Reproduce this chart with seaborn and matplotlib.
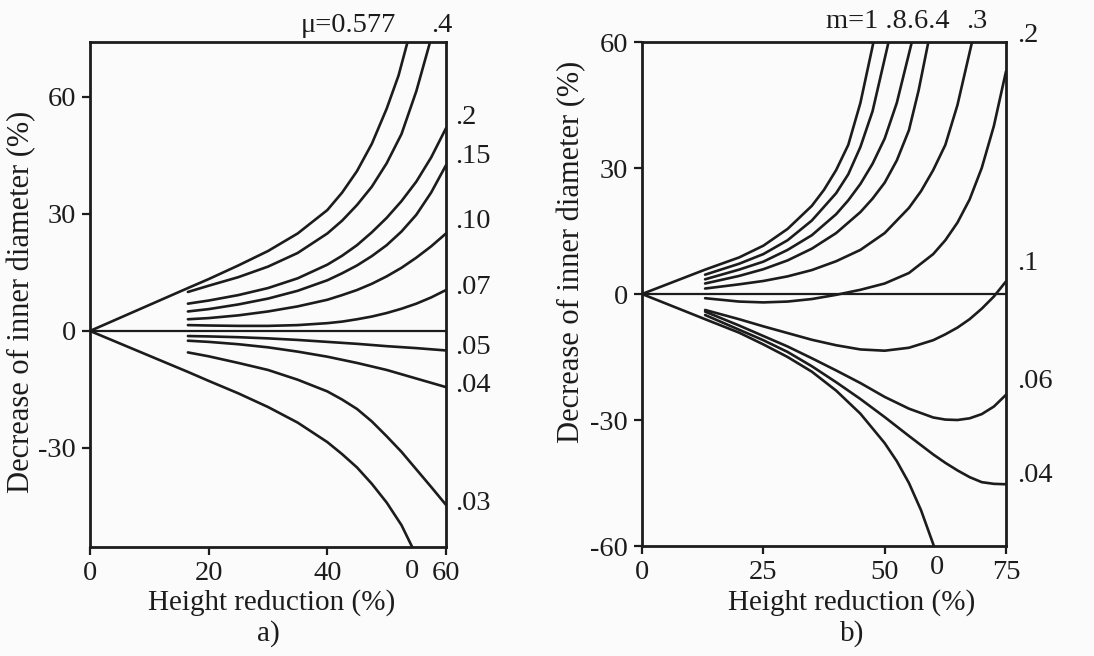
import matplotlib
matplotlib.use("Agg")
import matplotlib.pyplot as plt
import seaborn as sns
import pandas as pd

# ---------------- data: panel a) (friction factor mu) ----------------
a_x_fan = [16.5, 20, 25, 30, 35, 40, 42.5, 45, 47.5, 50, 52.5, 55, 57.5, 60]
mu0577_x = [0, 16.5, 20, 25, 30, 35, 40, 42.5, 45, 47.5, 50, 52, 53.5]
mu0577_y = [0, 11, 13.3, 16.8, 20.5, 25, 31, 35.5, 41, 48, 57, 65.5, 74]
mu04_x = [16.5, 20, 25, 30, 35, 40, 42.5, 45, 47.5, 50, 52.5, 55, 57.3]
mu04_y = [10, 11.6, 13.8, 16.5, 20, 25, 28.3, 32.3, 37, 43, 50.5, 61.5, 74]
mu02_y = [7, 7.8, 9.2, 11, 13.5, 17, 19.3, 22, 25.3, 29, 33.3, 38.3, 44.5, 52]
mu015_y = [5, 5.6, 6.8, 8.3, 10.3, 13, 14.8, 16.8, 19.2, 22, 25.5, 29.8, 35.5, 42.5]
mu010_y = [3, 3.3, 4, 5, 6.3, 8, 9.2, 10.5, 12.1, 14, 16.2, 18.8, 21.7, 25]
mu007_y = [1.5, 1.4, 1.3, 1.3, 1.5, 2, 2.4, 3, 3.7, 4.6, 5.7, 7, 8.6, 10.5]
mu005_y = [-1.3, -1.4, -1.6, -1.9, -2.3, -2.8, -3.05, -3.3, -3.6, -3.9, -4.15, -4.4, -4.7, -5]
mu004_y = [-2.5, -2.8, -3.4, -4.2, -5.3, -6.6, -7.4, -8.2, -9.1, -10, -11.1, -12.2, -13.3, -14.4]
mu003_y = [-5.5, -6.5, -8.2, -10, -12.5, -15.5, -17.6, -20, -23.2, -27, -31, -35.5, -40, -44.6]
mu0_x = [0, 16.5, 20, 25, 30, 35, 40, 42.5, 45, 47.5, 50, 52.5, 54.3]
mu0_y = [0, -10.5, -12.8, -16, -19.5, -23.5, -28.5, -31.6, -35, -39.2, -44, -49.8, -55.4]

a_xticks = [0, 20, 40, 60]
a_yticks = [-30, 0, 30, 60]

# ---------------- data: panel b) (friction factor m) ----------------
b_x_fan = [13, 20, 25, 30, 35, 40, 45, 50, 55, 60, 62.5, 65, 67.5, 70, 72.5, 75]
m1_x = [0, 13, 20, 25, 30, 35, 37.5, 40, 42.5, 45, 47.7]
m1_y = [0, 5.8, 8.7, 11.5, 15.5, 21, 24.8, 29.5, 35.5, 45.5, 60]
m08_x = [13, 20, 25, 30, 35, 40, 42.5, 45, 47.5, 50.8]
m08_y = [4.6, 7.2, 9.5, 12.8, 17.5, 24, 28.5, 35, 43.5, 60]
m06_x = [13, 20, 25, 30, 35, 40, 42.5, 45, 47.5, 50, 52.5, 55.6]
m06_y = [3.5, 5.8, 7.7, 10.5, 14, 19, 22.3, 26.2, 31, 37, 45.5, 60]
m04_x = [13, 20, 25, 30, 35, 40, 45, 47.5, 50, 52.5, 55, 57, 59]
m04_y = [2.5, 4.3, 5.9, 8, 10.8, 14.5, 19.5, 22.7, 26.5, 31.8, 39, 48.5, 60]
m03_x = [13, 20, 25, 30, 35, 40, 45, 50, 55, 57.5, 60, 62.5, 65, 68]
m03_y = [1.3, 2.3, 3.1, 4.2, 5.7, 7.8, 10.5, 14.5, 20.5, 24.5, 29.5, 35.5, 45, 60]
m02_y = [-1, -1.8, -2, -1.8, -1.2, -0.2, 1, 2.5, 5, 9.5, 12.8, 17, 22.5, 30, 40, 53]
m01_y = [-3.8, -6, -7.7, -9.3, -10.9, -12.2, -13.2, -13.5, -12.8, -11, -9.6, -8, -6, -3.5, -0.6, 3]
m006_y = [-4.2, -7.5, -10, -12.5, -15.3, -18.2, -21.2, -24.5, -27.3, -29.4, -29.9, -30, -29.6, -28.6, -26.8, -24]
m004_y = [-5, -8.5, -11, -13.8, -17.2, -21, -25, -29.3, -33.8, -38.2, -40.2, -42, -43.6, -44.8, -45.2, -45.3]
m0_x = [0, 13, 20, 25, 30, 35, 40, 45, 50, 52.5, 55, 57.5, 60.3]
m0_y = [0, -6, -9.2, -12, -15, -18.5, -23, -28.5, -35.5, -39.8, -45, -51.5, -60.5]

b_xticks = [0, 25, 50, 75]
b_yticks = [-60, -30, 0, 30, 60]


def long_table(curves):
    rows = []
    for name, xs, ys in curves:
        for i, (x, y) in enumerate(zip(xs, ys)):
            rows.append({"curve": name, "x": x, "y": y, "order": i})
    return pd.DataFrame(rows)


df_a = long_table([
    ("0.577", mu0577_x, mu0577_y), (".4", mu04_x, mu04_y),
    (".2", a_x_fan, mu02_y), (".15", a_x_fan, mu015_y),
    (".10", a_x_fan, mu010_y), (".07", a_x_fan, mu007_y),
    (".05", a_x_fan, mu005_y), (".04", a_x_fan, mu004_y),
    (".03", a_x_fan, mu003_y), ("0", mu0_x, mu0_y),
])
df_b = long_table([
    ("1", m1_x, m1_y), (".8", m08_x, m08_y), (".6", m06_x, m06_y),
    (".4", m04_x, m04_y), (".3", m03_x, m03_y), (".2", b_x_fan, m02_y),
    (".1", b_x_fan, m01_y), (".06", b_x_fan, m006_y),
    (".04", b_x_fan, m004_y), ("0", m0_x, m0_y),
])

# ---------------- style ----------------
sns.set_theme(style="white")
plt.rcParams['font.family'] = ['Liberation Serif', 'DejaVu Serif']
plt.rcParams['axes.unicode_minus'] = False
INK = "#1c1c1c"
FS = 20.5
W, H = 1094, 656

fig = plt.figure(figsize=(W / 100, H / 100), dpi=100)
fig.patch.set_facecolor("#fbfbfb")


def frac(px, py):
    return px / W, 1 - py / H


def make_axes(l, t, r, b):
    ax = fig.add_axes([l / W, 1 - b / H, (r - l) / W, (b - t) / H])
    ax.set_facecolor("#fbfbfb")
    for s in ax.spines.values():
        s.set_color(INK)
        s.set_linewidth(2.0)
    ax.tick_params(direction="out", length=6, width=1.6, colors=INK,
                   labelsize=FS, pad=4, bottom=True, left=True)
    return ax


def draw(ax, df):
    pal = {c: INK for c in df["curve"].unique()}
    sns.lineplot(data=df, x="x", y="y", hue="curve", palette=pal,
                 estimator=None, sort=False, legend=False, lw=1.9, ax=ax)
    ax.axhline(0, color=INK, lw=1.6)
    ax.set_xlabel("")
    ax.set_ylabel("")


# panel a
axa = make_axes(90, 42, 446, 547)
draw(axa, df_a)
axa.set_xlim(0, 60)
axa.set_ylim(-55.4, 74.1)
axa.set_xticks(a_xticks)
axa.set_yticks(a_yticks)

# panel b
axb = make_axes(642, 42, 1006, 546)
draw(axb, df_b)
axb.set_xlim(0, 75)
axb.set_ylim(-60, 60)
axb.set_xticks(b_xticks)
axb.set_yticks(b_yticks)

txt = dict(color=INK, fontsize=FS, va="center")

# curve labels panel a
fig.text(*frac(348, 25), "\u03bc=0.577", ha="center", **txt)
fig.text(*frac(442, 25), ".4", ha="center", **txt)
for lab, py in [(".2", 117), (".15", 157), (".10", 222), (".07", 287),
                (".05", 347), (".04", 385), (".03", 504)]:
    fig.text(*frac(455, py), lab, ha="left", **txt)
fig.text(*frac(412, 571), "0", ha="center", **txt)

# curve labels panel b
fig.text(*frac(888, 22), "m=1 .8.6.4", ha="center", **txt)
fig.text(*frac(977, 22), ".3", ha="center", **txt)
fig.text(*frac(1017, 35), ".2", ha="left", **txt)
for lab, py in [(".1", 263), (".06", 382), (".04", 475)]:
    fig.text(*frac(1017, py), lab, ha="left", **txt)
fig.text(*frac(937, 568), "0", ha="center", **txt)

# axis titles
lab = dict(color=INK, fontsize=21, va="center")
fig.text(*frac(272, 603), "Height reduction (%)", ha="center", **lab)
fig.text(*frac(852, 603), "Height reduction (%)", ha="center", **lab)
fig.text(*frac(268, 634), "a)", ha="center", **lab)
fig.text(*frac(852, 634), "b)", ha="center", **lab)
ylab = dict(color=INK, fontsize=22, va="center", ha="center", rotation=90)
fig.text(*frac(22, 302), "Decrease of inner diameter (%)", **ylab)
fig.text(*frac(572, 252), "Decrease of inner diameter (%)", **ylab)

fig.savefig("out.png", dpi=100, facecolor=fig.get_facecolor())
